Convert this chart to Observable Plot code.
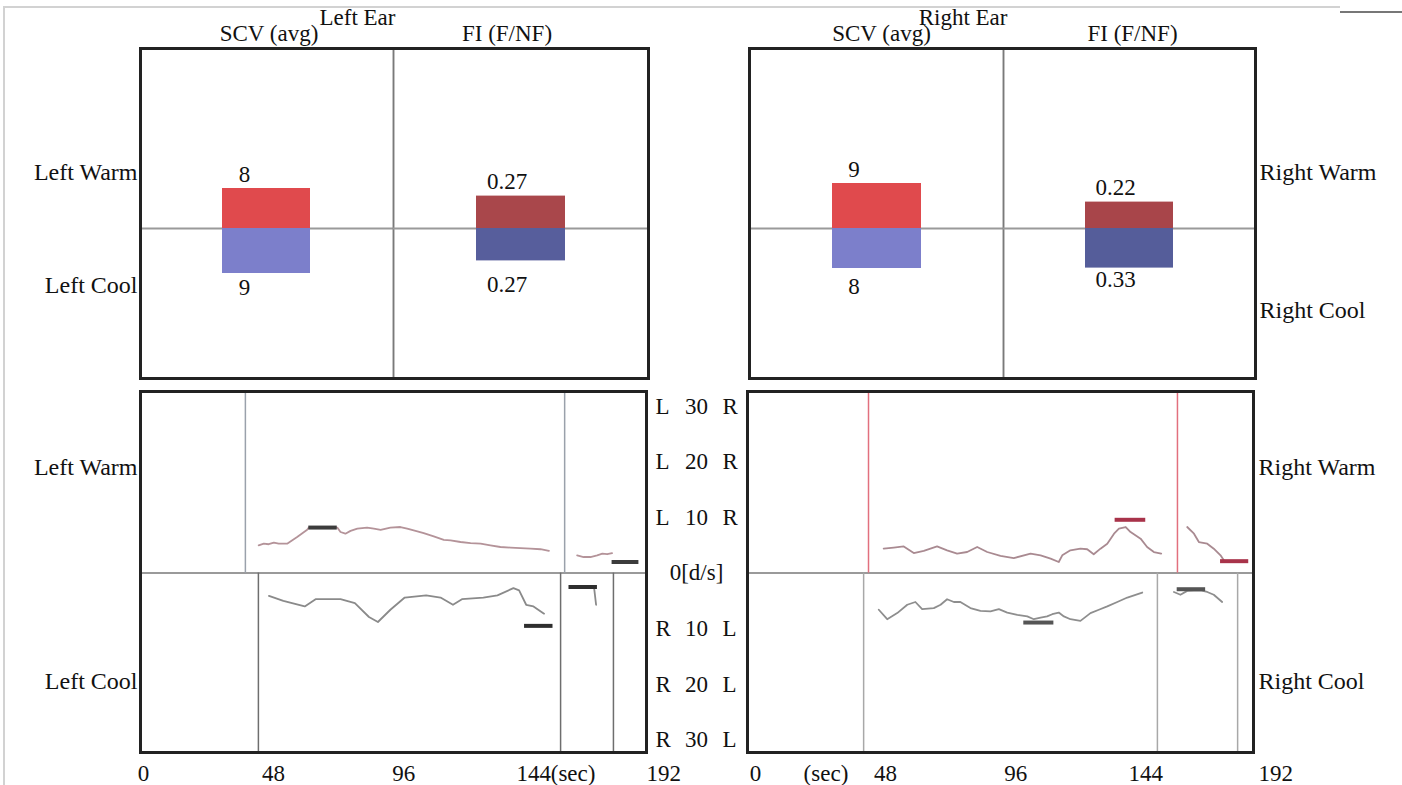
<!DOCTYPE html>
<html><head><meta charset="utf-8">
<script src="https://cdn.jsdelivr.net/npm/d3@7"></script>
<script src="https://cdn.jsdelivr.net/npm/@observablehq/plot@0.6"></script>
<style>
html,body{margin:0;padding:0;background:#fff;}
#wrap{position:relative;width:1402px;height:785px;overflow:hidden;background:#fff;font-family:"Liberation Serif",serif;}
#wrap svg{position:absolute;overflow:visible;}
.deco{position:absolute;box-sizing:border-box;pointer-events:none;}
</style></head><body><div id="wrap"></div>
<script>
// ---------- data ----------
const columns = ["SCV (avg)", "FI (F/NF)"];
const ears = ["Left Ear", "Right Ear"];
const scvWarm = [8, 9];       // [left ear, right ear]
const scvCool = [9, 8];
const fiWarm = [0.27, 0.22];
const fiCool = [0.27, 0.33];
const rowLabelsLeft = ["Left Warm", "Left Cool"];
const rowLabelsRight = ["Right Warm", "Right Cool"];
const timeTicks = [0, 48, 96, 144, 192];
const dpsTicks = [30, 20, 10, 0, -10, -20, -30];
const dpsLeftLetter = ["L", "L", "L", "", "R", "R", "R"];
const dpsNumber = ["30", "20", "10", "0[d/s]", "10", "20", "30"];
const dpsRightLetter = ["R", "R", "R", "", "L", "L", "L"];

// left ear, warm (upper) trace
const lwTime1 = [42.5,44.4,46.2,48.1,49.9,53.0,56.7,60.4,61.0,71.5,72.7,74.5,76.4,78.9,82.5,85.0,87.5,91.1,94.8,97.3,99.7,103.4,107.1,110.8,113.3,117.0,120.7,124.4,128.0,131.7,135.4,139.1,142.8,146.5,149.6];
const lwVal1  = [5.0,5.3,5.2,5.5,5.3,5.3,6.5,7.8,8.2,8.2,7.4,7.1,7.6,8.0,8.2,8.0,7.8,8.2,8.3,8.0,7.7,7.2,6.6,6.0,5.9,5.6,5.4,5.3,5.0,4.7,4.6,4.5,4.4,4.3,4.0];
const lwTime2 = [160.0,162.4,164.9,167.4,169.3,171.1,172.9];
const lwVal2  = [3.2,2.9,2.9,3.2,3.5,3.4,3.6];
const lwBarStart = [61.0, 172.9], lwBarEnd = [71.5, 182.8], lwBarVal = [8.2, 2.0];
const lwEvents = [37.6, 155.4];
// left ear, cool (lower) trace
const lcTime1 = [46.3,51.6,59.5,63.5,72.7,78.0,83.2,86.5,91.1,96.4,104.3,109.6,114.2,117.5,125.4,130.6,136.5,138.6,141.2,143.9,147.8];
const lcVal1  = [-4.1,-5.0,-6.0,-4.7,-4.7,-5.4,-7.9,-8.8,-6.6,-4.4,-4.0,-4.4,-5.7,-4.7,-4.4,-4.0,-2.7,-3.1,-5.7,-6.0,-7.3];
const lcTime2 = [166.3, 167.0];
const lcVal2  = [-2.8, -5.7];
const lcBarStart = [140.6, 157.0], lcBarEnd = [151.1, 167.5], lcBarVal = [-9.5, -2.5];
const lcEvents = [42.4, 153.9, 173.4];
// right ear, warm (upper) trace
const rwTime1 = [47.3,51.0,54.7,58.4,62.1,67.0,70.7,74.4,78.1,81.8,85.5,90.4,95.3,101.5,105.2,108.9,111.9,113.2,116.2,119.9,122.4,124.8,127.3,129.8,132.3,134.1,136.6,138.4,142.1,144.5,147.0,149.7];
const rwVal1  = [4.4,4.6,4.8,3.6,4.0,4.8,4.1,3.5,3.8,4.7,3.8,3.1,2.7,3.5,3.2,2.6,2.0,3.2,4.1,4.4,4.3,3.4,4.4,5.3,7.1,8.0,8.3,7.4,6.2,4.7,3.8,3.5];
const rwTime2 = [159.3,161.8,163.6,166.7,169.1,171.6,172.8];
const rwVal2  = [8.3,7.1,5.6,5.3,4.4,3.2,2.3];
const rwBarStart = [132.7, 171.6], rwBarEnd = [144.0, 182.0], rwBarVal = [9.6, 2.15];
const rwEvents = [41.7, 155.7];
// right ear, cool (lower) trace
const rcTime1 = [45.5,48.6,52.3,56.0,59.0,61.5,65.8,68.3,70.7,73.2,75.6,79.3,83.0,86.7,89.8,92.9,96.6,100.3,102.7,105.2,107.6,109.5,111.9,113.8,116.2,119.9,123.6,126.7,129.8,133.5,137.2,142.7];
const rcVal1  = [-6.6,-8.3,-7.2,-5.7,-5.2,-6.5,-6.3,-5.7,-4.7,-5.2,-5.2,-6.3,-6.8,-6.9,-6.5,-7.1,-7.5,-7.8,-8.3,-8.0,-7.8,-7.4,-7.1,-7.8,-8.3,-8.6,-7.2,-6.6,-6.0,-5.2,-4.4,-3.5];
const rcTime2 = [154.4,156.8,159.3,164.2,166.7,169.1,172.2];
const rcVal2  = [-3.4,-3.9,-3.2,-3.1,-3.4,-3.9,-5.2];
const rcBarStart = [99.0, 155.6], rcBarEnd = [110.1, 166.1], rcBarVal = [-8.9, -2.9];
const rcEvents = [39.9, 148.3, 177.9];

// ---------- helpers ----------
const wrap = document.getElementById("wrap");
const FONT = {fontFamily: "Liberation Serif", fontSize: 23, fill: "#111", lineAnchor: "middle"};
const ROWFONT = {...FONT, fontSize: 24};
const svgStyle = "background:transparent;overflow:visible;font-family:'Liberation Serif',serif;font-size:23px;";
function place(el, left, top) { el.style.left = left + "px"; el.style.top = top + "px"; wrap.appendChild(el); }
function deco(css) { const d = document.createElement("div"); d.className = "deco"; d.style.cssText = css; wrap.appendChild(d); }
const rows = (ts, vs, seg) => ts.map((t, i) => ({t, v: vs[i], seg}));
const bars = (s, e, v) => s.map((t1, i) => ({t1, t2: e[i], v: v[i]}));

// page frame lines (behind everything)
deco("left:3px;top:6px;width:1337px;height:0;border-top:2px solid #d2d2d2;");
deco("left:3px;top:6px;width:0;height:779px;border-left:2px solid #d2d2d2;");
deco("left:1340px;top:11px;width:62px;height:0;border-top:2px solid #777;");

// ---------- top boxes ----------
function topHalf(o) {
  const warmRows = [{metric: o.metric, value: o.warm}];
  const coolRows = [{metric: o.metric, value: o.cool}];
  const marks = [
    Plot.frame({stroke: "#7a7a7a", strokeWidth: 1.5}),
    Plot.ruleY([0], {stroke: "#9a9a9a", strokeWidth: 2}),
    Plot.barY(warmRows, {x: "metric", y1: 0, y2: "value", fill: o.warmColor}),
    Plot.barY(coolRows, {x: "metric", y1: d => -d.value, y2: 0, fill: o.coolColor}),
    Plot.text(warmRows, {x: "metric", y: "value", text: d => String(d.value), dy: -14, dx: o.labelDx, ...FONT}),
    Plot.text(coolRows, {x: "metric", y: d => -d.value, text: d => String(d.value), dy: o.coolDy, dx: o.labelDx, ...FONT}),
    Plot.text([o.metric], {frameAnchor: "top", dy: -15, dx: o.headerDx, text: d => d, ...FONT})
  ];
  if (o.ear) marks.push(Plot.text([o.ear], {frameAnchor: "top-right", dy: -31, dx: o.earDx, text: d => d, ...FONT}));
  if (o.rowLabels) {
    const anchor = o.rowSide === "left" ? "top-left" : "top-right";
    const ta = o.rowSide === "left" ? "end" : "start";
    const dx = o.rowSide === "left" ? -3 : 4;
    marks.push(Plot.text([o.rowLabels[0]], {frameAnchor: anchor, textAnchor: ta, dx, dy: o.rowDy[0], text: d => d, ...ROWFONT}));
    marks.push(Plot.text([o.rowLabels[1]], {frameAnchor: anchor, textAnchor: ta, dx, dy: o.rowDy[1], text: d => d, ...ROWFONT}));
  }
  return Plot.plot({
    width: o.width, height: 378, marginTop: 48, marginBottom: 0,
    marginLeft: o.marginLeft || 0, marginRight: o.marginRight || 0,
    style: svgStyle,
    x: {domain: [o.metric], padding: 0.48, axis: null},
    y: {domain: o.yDomain, axis: null},
    marks
  });
}
const SCV_Y = [-30, 36], FI_Y = [-1.25, 1.5];

place(topHalf({metric: columns[0], warm: scvWarm[0], cool: scvCool[0], warmColor: "#e04a4d", coolColor: "#7c7fcb",
  width: 393, marginLeft: 140, yDomain: SCV_Y, labelDx: -22, coolDy: 14, headerDx: 2, ear: ears[0], earDx: 2,
  rowLabels: rowLabelsLeft, rowSide: "left", rowDy: [124, 237]}), 0, 0);
place(topHalf({metric: columns[1], warm: fiWarm[0], cool: fiCool[0], warmColor: "#a9474b", coolColor: "#575e9c",
  width: 255, yDomain: FI_Y, labelDx: -14, coolDy: 24, headerDx: -14}), 393, 0);
place(topHalf({metric: columns[0], warm: scvWarm[1], cool: scvCool[1], warmColor: "#e04a4d", coolColor: "#7c7fcb",
  width: 254, yDomain: SCV_Y, labelDx: -23, coolDy: 18, headerDx: 5, ear: ears[1], earDx: 4}), 749, 0);
place(topHalf({metric: columns[1], warm: fiWarm[1], cool: fiCool[1], warmColor: "#a8454a", coolColor: "#555d9a",
  width: 399, marginRight: 147, yDomain: FI_Y, labelDx: -14, coolDy: 12, headerDx: 3,
  rowLabels: rowLabelsRight, rowSide: "right", rowDy: [124, 262]}), 1003, 0);

// ---------- bottom boxes ----------
const BOT_Y = [-32.3, 32.7];
function bottomPanel(o) {
  const marks = [
    Plot.ruleY([0], {stroke: "#9a9a9a", strokeWidth: 2}),
    Plot.ruleX(o.warmEvents, {x: d => d, y1: 0, y2: BOT_Y[1], stroke: o.warmEventColor, strokeWidth: 1.5}),
    Plot.ruleX(o.coolEvents, {x: d => d, y1: BOT_Y[0], y2: 0, stroke: o.coolEventColor, strokeWidth: 1.5}),
    Plot.line(o.warm, {x: "t", y: "v", z: "seg", stroke: o.warmColor, strokeWidth: 1.8, curve: "linear"}),
    Plot.line(o.cool, {x: "t", y: "v", z: "seg", stroke: o.coolColor, strokeWidth: 1.8, curve: "linear"}),
    Plot.ruleY(o.warmBars, {y: "v", x1: "t1", x2: "t2", stroke: o.warmBarColor, strokeWidth: 4}),
    Plot.ruleY(o.coolBars, {y: "v", x1: "t1", x2: "t2", stroke: o.coolBarColor, strokeWidth: 4}),
    Plot.frame({stroke: "#222", strokeWidth: 3}),
    Plot.text(timeTicks, {x: d => d, frameAnchor: "bottom", dy: 21, text: d => String(d), ...FONT}),
    Plot.text(o.secAt, {x: d => d, frameAnchor: "bottom", dy: 21, dx: o.secDx, textAnchor: o.secAnchor, text: () => "(sec)", ...FONT})
  ];
  const anchor = o.rowSide === "left" ? "top-left" : "top-right";
  const ta = o.rowSide === "left" ? "end" : "start";
  const rdx = o.rowSide === "left" ? -3 : 5;
  marks.push(Plot.text([o.rowLabels[0]], {frameAnchor: anchor, textAnchor: ta, dx: rdx, dy: 76, text: d => d, ...ROWFONT}));
  marks.push(Plot.text([o.rowLabels[1]], {frameAnchor: anchor, textAnchor: ta, dx: rdx, dy: 290, text: d => d, ...ROWFONT}));
  if (o.scaleLabels) {
    marks.push(Plot.text(dpsTicks, {y: d => d, frameAnchor: "right", dx: 9, textAnchor: "start", text: dpsLeftLetter, ...FONT}));
    marks.push(Plot.text(dpsTicks, {y: d => d, frameAnchor: "right", dx: 50, textAnchor: "middle", text: dpsNumber, ...FONT}));
    marks.push(Plot.text(dpsTicks, {y: d => d, frameAnchor: "right", dx: 76, textAnchor: "start", text: dpsRightLetter, ...FONT}));
  }
  return Plot.plot({
    width: o.width, height: 405, marginTop: 11, marginBottom: 33,
    marginLeft: o.marginLeft, marginRight: o.marginRight,
    style: svgStyle,
    x: {domain: o.xDomain, axis: null},
    y: {domain: BOT_Y, axis: null},
    marks
  });
}

place(bottomPanel({
  width: 740, marginLeft: 140, marginRight: 94, xDomain: [-1.1, 185.6],
  warm: [...rows(lwTime1, lwVal1, 1), ...rows(lwTime2, lwVal2, 2)],
  cool: [...rows(lcTime1, lcVal1, 1), ...rows(lcTime2, lcVal2, 2)],
  warmBars: bars(lwBarStart, lwBarEnd, lwBarVal), coolBars: bars(lcBarStart, lcBarEnd, lcBarVal),
  warmEvents: lwEvents, coolEvents: lcEvents,
  warmColor: "#b49399", coolColor: "#8a8a8a", warmBarColor: "#3c3c3c", coolBarColor: "#2e2e2e",
  warmEventColor: "#9aa1ab", coolEventColor: "#6e6e6e",
  secAt: [144], secDx: 17, secAnchor: "start",
  rowLabels: rowLabelsLeft, rowSide: "left", scaleLabels: true
}), 0, 380);

place(bottomPanel({
  width: 655, marginLeft: 0, marginRight: 149, xDomain: [-2.95, 183.76],
  warm: [...rows(rwTime1, rwVal1, 1), ...rows(rwTime2, rwVal2, 2)],
  cool: [...rows(rcTime1, rcVal1, 1), ...rows(rcTime2, rcVal2, 2)],
  warmBars: bars(rwBarStart, rwBarEnd, rwBarVal), coolBars: bars(rcBarStart, rcBarEnd, rcBarVal),
  warmEvents: rwEvents, coolEvents: rcEvents,
  warmColor: "#a98a91", coolColor: "#8e8e8e", warmBarColor: "#a8334a", coolBarColor: "#555",
  warmEventColor: "#e2707e", coolEventColor: "#a8a8a8",
  secAt: [26], secDx: 0, secAnchor: "middle",
  rowLabels: rowLabelsRight, rowSide: "right", scaleLabels: false
}), 747, 380);

// ---------- thick outer borders of the top boxes ----------
deco("left:138.5px;top:46.5px;width:511px;height:333px;border:3px solid #222;");
deco("left:747.5px;top:46.5px;width:509px;height:333px;border:3px solid #222;");
</script></body></html>
